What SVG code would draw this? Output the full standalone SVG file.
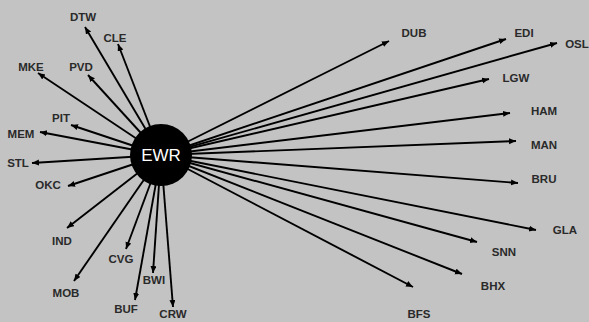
<svg xmlns="http://www.w3.org/2000/svg" width="589" height="322" viewBox="0 0 589 322">
<style>
.e{stroke:#000;stroke-width:1.9;fill:none;marker-end:url(#a)}
.l{font-family:"Liberation Sans",Arial,sans-serif;font-size:11.5px;font-weight:bold;fill:#2a2a2a;text-anchor:middle}
.hub{font-family:"Liberation Sans",Arial,sans-serif;font-size:17px;fill:#fff;text-anchor:middle}
</style>
<defs>
<marker id="a" markerUnits="userSpaceOnUse" markerWidth="9" markerHeight="7" refX="7" refY="3" orient="auto">
<path d="M0,0 L7,3 L0,6 Z" fill="#000"/>
</marker>
</defs>
<rect width="589" height="322" fill="#c3c3c3"/>
<g id="connectors">
<line class="e" x1="161" y1="155" x2="85" y2="27"/>
<line class="e" x1="161" y1="155" x2="118" y2="44"/>
<line class="e" x1="161" y1="155" x2="38" y2="73"/>
<line class="e" x1="161" y1="155" x2="88" y2="75"/>
<line class="e" x1="161" y1="155" x2="71" y2="125"/>
<line class="e" x1="161" y1="155" x2="40" y2="132"/>
<line class="e" x1="161" y1="155" x2="32" y2="163"/>
<line class="e" x1="161" y1="155" x2="68" y2="186"/>
<line class="e" x1="161" y1="155" x2="67" y2="228"/>
<line class="e" x1="161" y1="155" x2="74" y2="281"/>
<line class="e" x1="161" y1="155" x2="126" y2="249"/>
<line class="e" x1="161" y1="155" x2="153" y2="273"/>
<line class="e" x1="161" y1="155" x2="135" y2="300"/>
<line class="e" x1="161" y1="155" x2="173" y2="307"/>
<line class="e" x1="161" y1="155" x2="389" y2="41"/>
<line class="e" x1="161" y1="155" x2="506" y2="39"/>
<line class="e" x1="161" y1="155" x2="557" y2="43"/>
<line class="e" x1="161" y1="155" x2="489" y2="79"/>
<line class="e" x1="161" y1="155" x2="510" y2="113"/>
<line class="e" x1="161" y1="155" x2="516" y2="141"/>
<line class="e" x1="161" y1="155" x2="518" y2="183"/>
<line class="e" x1="161" y1="155" x2="536" y2="230"/>
<line class="e" x1="161" y1="155" x2="477" y2="242"/>
<line class="e" x1="161" y1="155" x2="462" y2="274"/>
<line class="e" x1="161" y1="155" x2="413" y2="287"/>
</g>
<g id="EWR"><circle cx="161" cy="155" r="31" fill="#000"/><text class="hub" x="161" y="161">EWR</text></g>
<g id="DTW"><text class="l" x="83" y="21">DTW</text></g>
<g id="CLE"><text class="l" x="115" y="42">CLE</text></g>
<g id="MKE"><text class="l" x="31" y="71">MKE</text></g>
<g id="PVD"><text class="l" x="81" y="71">PVD</text></g>
<g id="PIT"><text class="l" x="61" y="122">PIT</text></g>
<g id="MEM"><text class="l" x="21" y="138">MEM</text></g>
<g id="STL"><text class="l" x="18" y="167">STL</text></g>
<g id="OKC"><text class="l" x="48" y="189">OKC</text></g>
<g id="IND"><text class="l" x="62" y="245">IND</text></g>
<g id="MOB"><text class="l" x="66" y="297">MOB</text></g>
<g id="CVG"><text class="l" x="121" y="263">CVG</text></g>
<g id="BWI"><text class="l" x="154" y="284">BWI</text></g>
<g id="BUF"><text class="l" x="126" y="313">BUF</text></g>
<g id="CRW"><text class="l" x="173" y="318">CRW</text></g>
<g id="DUB"><text class="l" x="414" y="37">DUB</text></g>
<g id="EDI"><text class="l" x="524" y="37">EDI</text></g>
<g id="OSL"><text class="l" x="577" y="48">OSL</text></g>
<g id="LGW"><text class="l" x="516" y="82">LGW</text></g>
<g id="HAM"><text class="l" x="544" y="115">HAM</text></g>
<g id="MAN"><text class="l" x="544" y="149">MAN</text></g>
<g id="BRU"><text class="l" x="544" y="183">BRU</text></g>
<g id="GLA"><text class="l" x="565" y="234">GLA</text></g>
<g id="SNN"><text class="l" x="504" y="256">SNN</text></g>
<g id="BHX"><text class="l" x="493" y="290">BHX</text></g>
<g id="BFS"><text class="l" x="419" y="318">BFS</text></g>
</svg>
